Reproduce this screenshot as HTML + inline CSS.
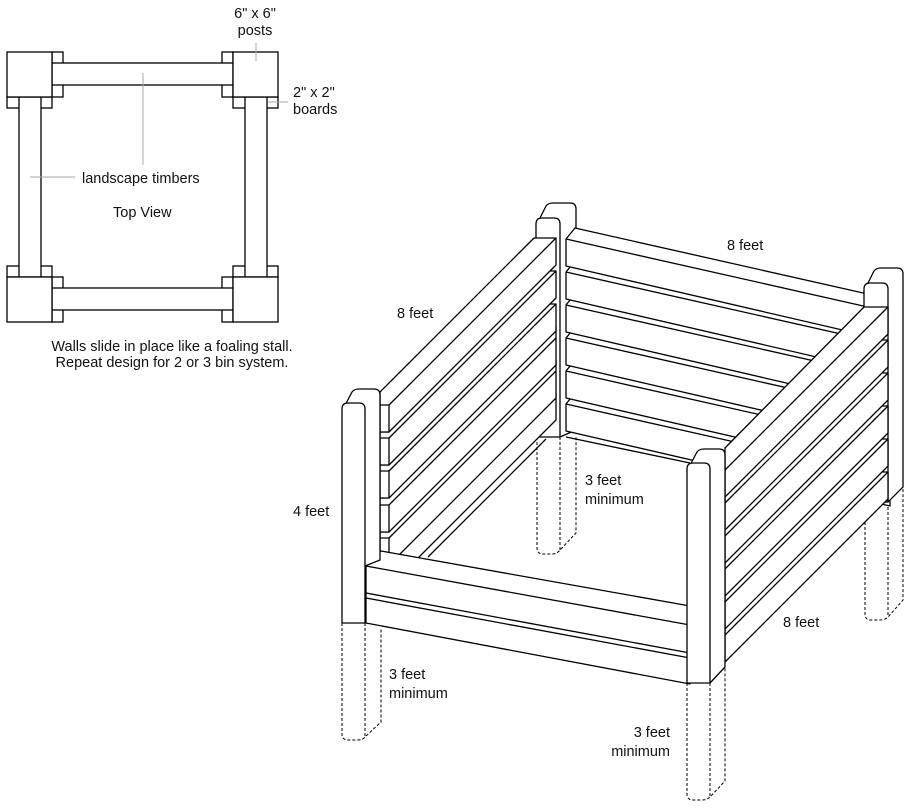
<!DOCTYPE html>
<html><head><meta charset="utf-8"><style>
html,body{margin:0;padding:0;background:#fff}
svg{display:block}
text{font-family:"Liberation Sans",sans-serif;font-size:14.5px;fill:#111}
</style></head><body>
<svg width="910" height="810" viewBox="0 0 910 810" xmlns="http://www.w3.org/2000/svg">
<g fill="#fff" stroke="#000" stroke-width="1.3">
<!-- top view -->
<rect x="52" y="52" width="11" height="45"/><rect x="222" y="52" width="11" height="45"/>
<rect x="52" y="277" width="11" height="45"/><rect x="222" y="277" width="11" height="45"/>
<rect x="7" y="97" width="45" height="11"/><rect x="233" y="97" width="45" height="11"/>
<rect x="7" y="266" width="45" height="11"/><rect x="233" y="266" width="45" height="11"/>
<rect x="52" y="63" width="181" height="22"/>
<rect x="52" y="288" width="181" height="22"/>
<rect x="19" y="97" width="22" height="180"/>
<rect x="245" y="97" width="22" height="180"/>
<rect x="7" y="52" width="45" height="45"/><rect x="233" y="52" width="45" height="45"/>
<rect x="7" y="277" width="45" height="45"/><rect x="233" y="277" width="45" height="45"/>
</g>
<g stroke="#aaa" stroke-width="1">
<line x1="143" y1="73" x2="143" y2="165"/>
<line x1="30" y1="177" x2="75" y2="177"/>
<line x1="256" y1="43" x2="256" y2="61"/>
<line x1="268" y1="102" x2="288" y2="102"/>
</g>
<text x="255" y="18" text-anchor="middle">6" x 6"</text>
<text x="255" y="35" text-anchor="middle">posts</text>
<text x="293" y="97">2" x 2"</text>
<text x="293" y="114">boards</text>
<text x="82" y="183">landscape timbers</text>
<text x="113" y="217">Top View</text>
<text x="172" y="351" text-anchor="middle">Walls slide in place like a foaling stall.</text>
<text x="172" y="367" text-anchor="middle">Repeat design for 2 or 3 bin system.</text>

<!-- dashed below-ground posts -->
<g fill="none" stroke="#000" stroke-width="1" stroke-dasharray="3,2">
<path d="M342,623 V734 Q342,740 348,740 H358 Q363,740 365,737 L381,722 V628 M365,623 V737"/>
<path d="M537,437 V548 Q537,554 543,554 H552 Q557,554 560,550 L576,533 V437 M560,437 V550"/>
<path d="M865,502 V614 Q865,620 871,620 H880 Q885,620 888,617 L903,600 V487 M888,502 V617"/>
<path d="M687,683 V794 Q687,800 693,800 H702 Q707,800 710,797 L725,781 V667 M710,683 V797"/>
</g>

<g fill="#fff" stroke="#000" stroke-width="1.3" stroke-linejoin="round">
<!-- back-left post -->
<path d="M536,226 L546,206 Q548,203 553,203 L570,203 Q576,203 576,209 V430 L560,437 Z"/>
<path d="M536,437 V224 Q536,218 542,218 H554 Q560,218 560,224 V437 Z"/>
<!-- interior lines -->
<line x1="400" y1="553" x2="540" y2="413" fill="none"/>
<line x1="406" y1="554" x2="545" y2="415" fill="none"/>
<line x1="428" y1="557" x2="546" y2="439" fill="none"/>
<line x1="566" y1="437" x2="690" y2="463" fill="none"/>
<!-- back wall boards -->
<g id="bw">
<path d="M566,404 L575,393 L890,464 L890,506 L566,431 Z"/><line x1="566" y1="404" x2="890" y2="477"/>
<path d="M566,371 L575,360 L890,431 L890,473 L566,398 Z"/><line x1="566" y1="371" x2="890" y2="444"/>
<path d="M566,338 L575,327 L890,398 L890,440 L566,365 Z"/><line x1="566" y1="338" x2="890" y2="411"/>
<path d="M566,305 L575,294 L890,365 L890,407 L566,332 Z"/><line x1="566" y1="305" x2="890" y2="378"/>
<path d="M566,272 L575,261 L890,332 L890,374 L566,299 Z"/><line x1="566" y1="272" x2="890" y2="345"/>
<path d="M566,239 L575,228 L890,299 L890,341 L566,266 Z"/><line x1="566" y1="239" x2="890" y2="312"/>
</g>
<!-- left wall boards -->
<path d="M380,557 L380,587 L389,587 L556,420 L556,393 L534,393 Z"/><line x1="389" y1="560" x2="556" y2="393"/><rect x="380" y="560" width="9" height="27"/>
<path d="M380,525 L380,565 L389,565 L556,398 L556,360 L534,360 Z"/><line x1="389" y1="538" x2="556" y2="371"/><rect x="380" y="538" width="9" height="27"/>
<path d="M380,492 L380,532 L389,532 L556,365 L556,327 L534,327 Z"/><line x1="389" y1="505" x2="556" y2="338"/><rect x="380" y="505" width="9" height="27"/>
<path d="M380,458 L380,498 L389,498 L556,331 L556,304 L534,304 Z"/><line x1="389" y1="471" x2="556" y2="304"/><rect x="380" y="471" width="9" height="27"/>
<path d="M380,425 L380,465 L389,465 L556,298 L556,271 L534,271 Z"/><line x1="389" y1="438" x2="556" y2="271"/><rect x="380" y="438" width="9" height="27"/>
<path d="M380,392 L380,432 L389,432 L556,265 L556,238 L534,238 Z"/><line x1="389" y1="405" x2="556" y2="238"/><rect x="380" y="405" width="9" height="27"/>
<!-- back-right post -->
<path d="M864,291 L874,271 Q876,268 881,268 L897,268 Q903,268 903,274 V487 L888,502 Z"/>
<path d="M864,502 V289 Q864,283 870,283 H882 Q888,283 888,289 V502 Z"/>
<!-- right wall boards -->
<path d="M725,613 L725,662 L888,499 L888,472 L864,472 Z"/><line x1="725" y1="635" x2="888" y2="472"/>
<path d="M725,580 L725,629 L888,466 L888,439 L864,439 Z"/><line x1="725" y1="602" x2="888" y2="439"/>
<path d="M725,547 L725,596 L888,433 L888,406 L864,406 Z"/><line x1="725" y1="569" x2="888" y2="406"/>
<path d="M725,514 L725,563 L888,400 L888,373 L864,373 Z"/><line x1="725" y1="536" x2="888" y2="373"/>
<path d="M725,481 L725,530 L888,367 L888,340 L864,340 Z"/><line x1="725" y1="503" x2="888" y2="340"/>
<path d="M725,448 L725,497 L888,334 L888,307 L864,307 Z"/><line x1="725" y1="470" x2="888" y2="307"/>
<!-- front wall -->
<path d="M366,566 L381,551 L690,606 L690,684 L366,623 Z"/>
<line x1="366" y1="566" x2="690" y2="625"/>
<line x1="366" y1="593" x2="690" y2="653"/>
<line x1="366" y1="598" x2="690" y2="658"/>
<!-- front-right post -->
<path d="M687,471 L697,452 Q699,449 704,449 L719,449 Q725,449 725,455 V667 L710,683 Z"/>
<path d="M687,683 V469 Q687,463 693,463 H704 Q710,463 710,469 V683 Z"/>
<!-- front-left post -->
<path d="M342,411 L352,392 Q354,389 359,389 L374,389 Q380,389 380,395 V560 L365,566 Z"/>
<path d="M342,623 V409 Q342,403 348,403 H359 Q365,403 365,409 V623 Z"/>
</g>

<text x="397" y="318">8 feet</text>
<text x="727" y="250">8 feet</text>
<text x="293" y="516">4 feet</text>
<text x="585" y="485">3 feet</text>
<text x="585" y="504">minimum</text>
<text x="389" y="679">3 feet</text>
<text x="389" y="698">minimum</text>
<text x="670" y="737" text-anchor="end">3 feet</text>
<text x="670" y="756" text-anchor="end">minimum</text>
<text x="783" y="627">8 feet</text>
</svg>
</body></html>
